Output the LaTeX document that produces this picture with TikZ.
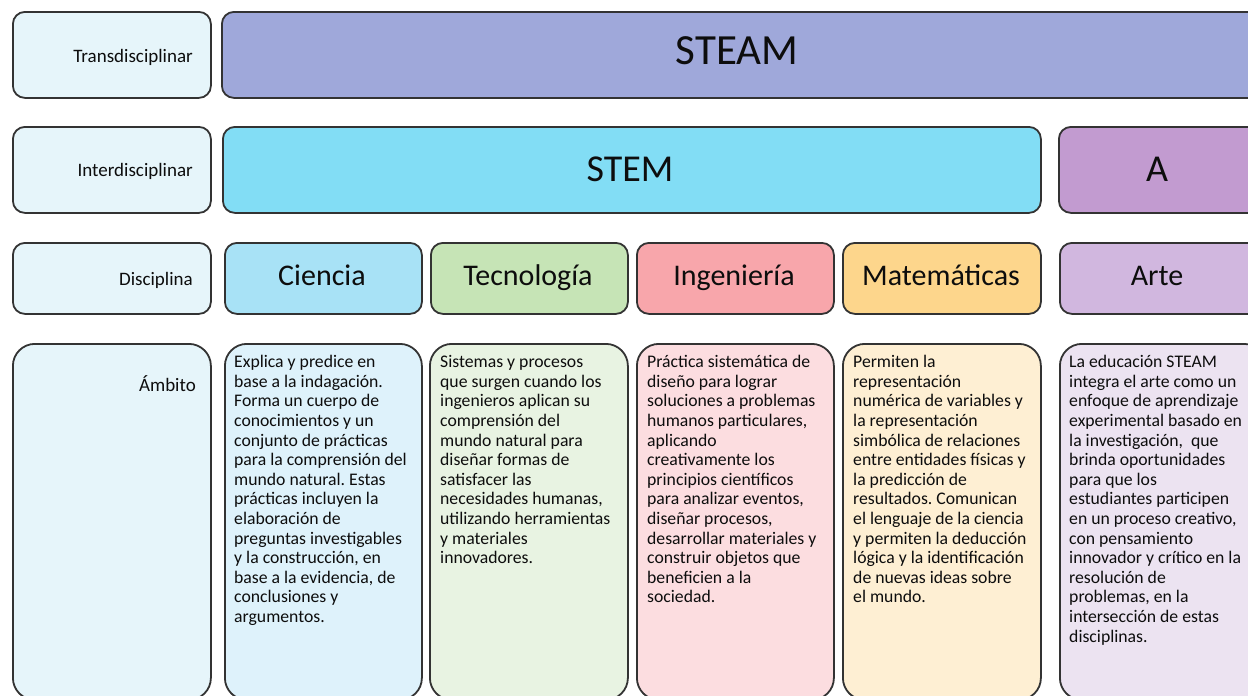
\documentclass[tikz,border=0pt]{standalone}
\usepackage{fontspec}
\setmainfont{Carlito}
\frenchspacing
\definecolor{cLab}{HTML}{E6F5FA}
\definecolor{cSteam}{HTML}{9FA8DA}
\definecolor{cStem}{HTML}{82DDF5}
\definecolor{cA}{HTML}{C29BD0}
\definecolor{cCi}{HTML}{A8E2F6}
\definecolor{cTe}{HTML}{C6E4B6}
\definecolor{cIn}{HTML}{F8A6AB}
\definecolor{cMa}{HTML}{FDD68C}
\definecolor{cAr}{HTML}{D1B7DF}
\definecolor{lCi}{HTML}{DEF2FB}
\definecolor{lTe}{HTML}{E8F3E2}
\definecolor{lIn}{HTML}{FCDDE0}
\definecolor{lMa}{HTML}{FEEFD3}
\definecolor{lAr}{HTML}{ECE3F1}
\definecolor{ink}{HTML}{0D0D0D}
\definecolor{edge}{HTML}{333333}
\begin{document}
\begin{tikzpicture}[x=1pt,y=-1pt,
  box/.style={draw=edge, line width=1.8pt, rounded corners=12pt, inner sep=0pt, anchor=north west},
  bigbox/.style={box, rounded corners=22pt},
  lab/.style={font=\fontsize{19}{22}\selectfont, text=ink, inner sep=0pt, anchor=base east},
  ttl/.style={font=\fontsize{30}{34}\selectfont, text=ink, inner sep=0pt, anchor=base},
  hdr/.style={font=\fontsize{38}{42}\selectfont, text=ink, inner sep=0pt, anchor=base},
  body/.style={font=\fontsize{17.7}{19.6}\selectfont, text=ink, align=left, anchor=north west, inner sep=0pt, execute at begin node=\strut},
]
\useasboundingbox (0,0) rectangle (1248,696);
\fill[white] (0,0) rectangle (1248,696);
\clip (0,0) rectangle (1248,696);

% label column
\node[box, fill=cLab, minimum width=198pt, minimum height=86pt] (b1) at (12,11) {};
\node[box, fill=cLab, minimum width=198pt, minimum height=86pt] (b2) at (12,126) {};
\node[box, fill=cLab, minimum width=198pt, minimum height=71pt] (b3) at (12,242) {};
\node[bigbox, fill=cLab, minimum width=198pt, minimum height=356pt] (b4) at (12,343) {};
\node[lab] (l1) at (193,62.5) {Transdisciplinar};
\node[lab] (l2) at (193,176) {Interdisciplinar};
\node[lab] (l3) at (193,285) {Disciplina};
\node[lab] (l4) at (196,391) {Ámbito};

% row 1
\node[box, fill=cSteam, minimum width=1044pt, minimum height=86pt] (steam) at (221,11) {};
\node[hdr, font=\fontsize{43}{46}\selectfont] (tsteam) at (737,64.5) {STEAM};

% row 2
\node[box, fill=cStem, minimum width=818pt, minimum height=86pt] (stem) at (222,126) {};
\node[box, fill=cA, minimum width=207pt, minimum height=86pt] (a) at (1058,126) {};
\node[hdr] (tstem) at (630,181.5) {STEM};
\node[hdr] (ta) at (1157,181.5) {A};

% row 3
\node[box, fill=cCi, minimum width=197pt, minimum height=71pt] (ci) at (224,242) {};
\node[box, fill=cTe, minimum width=197pt, minimum height=71pt] (te) at (430,242) {};
\node[box, fill=cIn, minimum width=197pt, minimum height=71pt] (in) at (636,242) {};
\node[box, fill=cMa, minimum width=198pt, minimum height=71pt] (ma) at (842,242) {};
\node[box, fill=cAr, minimum width=206pt, minimum height=71pt] (ar) at (1059,242) {};
\node[ttl] (tci) at (322,285) {Ciencia};
\node[ttl] (tte) at (528,285) {Tecnología};
\node[ttl] (tin) at (734,285) {Ingeniería};
\node[ttl] (tma) at (941,285) {Matemáticas};
\node[ttl] (tar) at (1157,285) {Arte};

% row 4
\node[bigbox, fill=lCi, minimum width=197pt, minimum height=356pt] (dci) at (224,343) {};
\node[bigbox, fill=lTe, minimum width=198pt, minimum height=356pt] (dte) at (429,343) {};
\node[bigbox, fill=lIn, minimum width=197pt, minimum height=356pt] (din) at (636,343) {};
\node[bigbox, fill=lMa, minimum width=198pt, minimum height=356pt] (dma) at (842,343) {};
\node[bigbox, fill=lAr, minimum width=206pt, minimum height=356pt] (dar) at (1059,343) {};

\node[body] (xci) at (234,355.3) {Explica y predice en\\base a la indagación.\\Forma un cuerpo de\\conocimientos y un\\conjunto de prácticas\\para la comprensión del\\mundo natural. Estas\\prácticas incluyen la\\elaboración de\\preguntas investigables\\y la construcción, en\\base a la evidencia, de\\conclusiones y\\argumentos.};
\node[body] (xte) at (440,355.3) {Sistemas y procesos\\que surgen cuando los\\ingenieros aplican su\\comprensión del\\mundo natural para\\diseñar formas de\\satisfacer las\\necesidades humanas,\\utilizando herramientas\\y materiales\\innovadores.};
\node[body] (xin) at (647,355.3) {Práctica sistemática de\\diseño para lograr\\soluciones a problemas\\humanos particulares,\\aplicando\\creativamente los\\principios científicos\\para analizar eventos,\\diseñar procesos,\\desarrollar materiales y\\construir objetos que\\beneficien a la\\sociedad.};
\node[body] (xma) at (853,355.3) {Permiten la\\representación\\numérica de variables y\\la representación\\simbólica de relaciones\\entre entidades físicas y\\la predicción de\\resultados. Comunican\\el lenguaje de la ciencia\\y permiten la deducción\\lógica y la identificación\\de nuevas ideas sobre\\el mundo.};
\node[body] (xar) at (1069,355.3) {La educación STEAM\\integra el arte como un\\enfoque de aprendizaje\\experimental basado en\\la investigación,\ \ que\\brinda oportunidades\\para que los\\estudiantes participen\\en un proceso creativo,\\con pensamiento\\innovador y crítico en la\\resolución de\\problemas, en la\\intersección de estas\\disciplinas.};
\end{tikzpicture}
\end{document}
